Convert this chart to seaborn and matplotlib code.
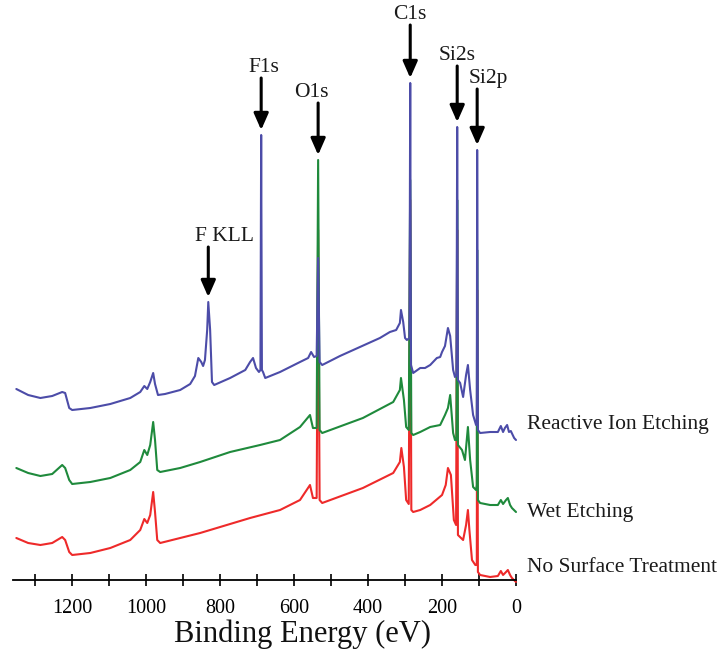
import numpy as np
import pandas as pd
import seaborn as sns
import matplotlib.pyplot as plt
from matplotlib.ticker import MultipleLocator

# XPS survey spectra (binding energy in eV, intensity in arbitrary units, curves already stacked)
rie_energy = [1351, 1319, 1286, 1254, 1227, 1219, 1208, 1200, 1151, 1097, 1043, 1016, 1005, 997, 989, 981,
              976, 968, 949, 908, 881, 868, 859, 851, 846, 841, 835, 832, 827, 822, 816, 773, 732, 719,
              711, 703, 695, 691, 689, 687, 684, 678, 638, 584, 562, 554, 546, 539, 535, 531, 524, 476,
              422, 368, 341, 324, 314, 311, 305, 300, 295, 288, 286, 284, 278, 259, 246, 232, 214, 205,
              200, 192, 184, 178, 170, 165, 161, 159, 157, 151, 143, 135, 130, 124, 116, 108, 106, 105,
              103, 97, 70, 49, 41, 35, 30, 24, 19, 14, 5, 0]
rie_counts = [191, 185, 182, 184, 188, 187, 172, 170, 172, 176, 182, 188, 194, 191, 198, 207,
              196, 185, 186, 190, 196, 204, 222, 218, 214, 220, 250, 278, 250, 198, 195, 202, 210, 218,
              222, 212, 208, 210, 445, 210, 208, 202, 208, 218, 222, 228, 223, 224, 322, 218, 215, 224,
              233, 242, 248, 250, 257, 270, 258, 242, 240, 242, 497, 215, 207, 212, 212, 215, 222, 223,
              228, 234, 252, 244, 210, 203, 205, 453, 200, 197, 183, 205, 215, 190, 165, 155, 160, 430,
              150, 147, 148, 148, 154, 148, 152, 155, 148, 149, 142, 140]

wet_energy = [1351, 1319, 1286, 1254, 1227, 1219, 1208, 1200, 1151, 1097, 1043, 1016, 1005, 997, 989, 981,
              976, 970, 962, 908, 854, 773, 692, 638, 584, 557, 549, 539, 535, 531, 524, 414, 332, 314,
              311, 303, 297, 290, 286, 283, 278, 259, 232, 205, 192, 184, 178, 170, 165, 161, 159, 157,
              146, 138, 130, 124, 116, 108, 106, 105, 103, 97, 70, 49, 41, 35, 27, 22, 16, 11, 0]
wet_counts = [112, 107, 104, 106, 115, 112, 100, 96, 98, 102, 110, 118, 130, 125, 135, 158,
              140, 110, 108, 112, 118, 128, 135, 140, 153, 165, 152, 152, 420, 150, 147, 162, 178, 190,
              202, 180, 153, 150, 400, 147, 145, 148, 153, 155, 165, 172, 185, 147, 140, 140, 380, 135,
              130, 120, 153, 120, 93, 90, 95, 330, 80, 77, 75, 75, 80, 76, 80, 82, 75, 72, 68]

none_energy = [1351, 1319, 1286, 1254, 1227, 1219, 1208, 1200, 1151, 1097, 1043, 1016, 1005, 997, 989, 981,
               976, 970, 962, 854, 719, 638, 584, 557, 549, 539, 535, 531, 524, 414, 332, 314, 310, 303,
               297, 290, 286, 283, 278, 259, 232, 200, 190, 184, 176, 168, 162, 159, 157, 143, 135, 130,
               126, 119, 110, 106, 105, 103, 97, 70, 49, 41, 35, 27, 22, 16, 11, 0]
none_counts = [42, 37, 35, 37, 43, 40, 28, 25, 27, 32, 40, 50, 61, 57, 65, 88,
               68, 40, 37, 47, 62, 70, 80, 95, 82, 82, 350, 80, 77, 92, 107, 118, 132, 113,
               80, 76, 380, 70, 68, 70, 75, 85, 95, 112, 105, 60, 55, 350, 45, 40, 55, 70,
               50, 20, 15, 15, 290, 8, 5, 3, 4, 9, 5, 8, 10, 5, 2, -2]

series_names = ["No Surface Treatment", "Wet Etching", "Reactive Ion Etching"]
series_colors = ["#ee2a2a", "#1f8a3c", "#4c4ca8"]

peak_names = ["F KLL", "F1s", "O1s", "C1s", "Si2s", "Si2p"]
peak_energies = [832, 689, 535, 286, 159, 105]

sns.set_theme(style="white")
plt.rcParams["font.family"] = ["Liberation Serif", "DejaVu Serif"]

fig = plt.figure(figsize=(7.25, 6.61), dpi=100)
ax = fig.add_axes([13 / 725, 1 - 580 / 661, 503 / 725, 580 / 661])

frames = []
for name, e, c in zip(series_names, [none_energy, wet_energy, rie_energy],
                      [none_counts, wet_counts, rie_counts]):
    frames.append(pd.DataFrame({"energy": e, "counts": c, "sample": name}))
df = pd.concat(frames, ignore_index=True)

for i, (name, color) in enumerate(zip(series_names, series_colors)):
    sub = df[df["sample"] == name]
    sns.lineplot(data=sub, x="energy", y="counts", color=color, lw=1.5, ax=ax,
                 sort=False, estimator=None, clip_on=False, zorder=2 + i)

ax.set_xlim(1360, 0)
ax.set_ylim(0, 580)
ax.set_yticks([])
for s in ["left", "right", "top"]:
    ax.spines[s].set_visible(False)
ax.spines["bottom"].set_color("black")
ax.spines["bottom"].set_linewidth(1.3)
ax.xaxis.set_major_locator(MultipleLocator(200))
ax.xaxis.set_minor_locator(MultipleLocator(100))
ax.tick_params(axis="x", which="both", direction="inout", length=9, width=1.2,
               colors="black", labelsize=14.5, pad=9, bottom=True)
ax.set_xlabel("")
ax.set_ylabel("")

fig.text(302 / 725, 1 - 634 / 661, "Binding Energy (eV)", ha="center", va="center",
         fontsize=22, color="#111111")

# sample labels to the right of the curves
label_y = [13, 68, 156]
for name, y in zip(series_names, label_y):
    ax.text(-30, y, name, ha="left", va="center", fontsize=15.5, color="#1a1a1a", clip_on=False)

# peak markers
text_dx = [-43, -8, 19, 0, 0, -30]
arrow_len = [50, 52, 52, 53, 56, 56]
for name, e, dx, ln in zip(peak_names, peak_energies, text_dx, arrow_len):
    top = df.loc[(df["energy"] - e).abs() <= 0.5, "counts"].max()
    tip = top + 5
    tail = tip + ln
    ax.annotate("", xy=(e, tip), xytext=(e, tail),
                arrowprops=dict(arrowstyle="-|>,head_length=0.5,head_width=0.22",
                                lw=2.2, color="black", mutation_scale=20,
                                shrinkA=0, shrinkB=0))
    ax.text(e + dx, tail + 1, name, ha="center", va="bottom", fontsize=15.5, color="#1a1a1a")

fig.savefig("out.png", dpi=100, facecolor="white")
